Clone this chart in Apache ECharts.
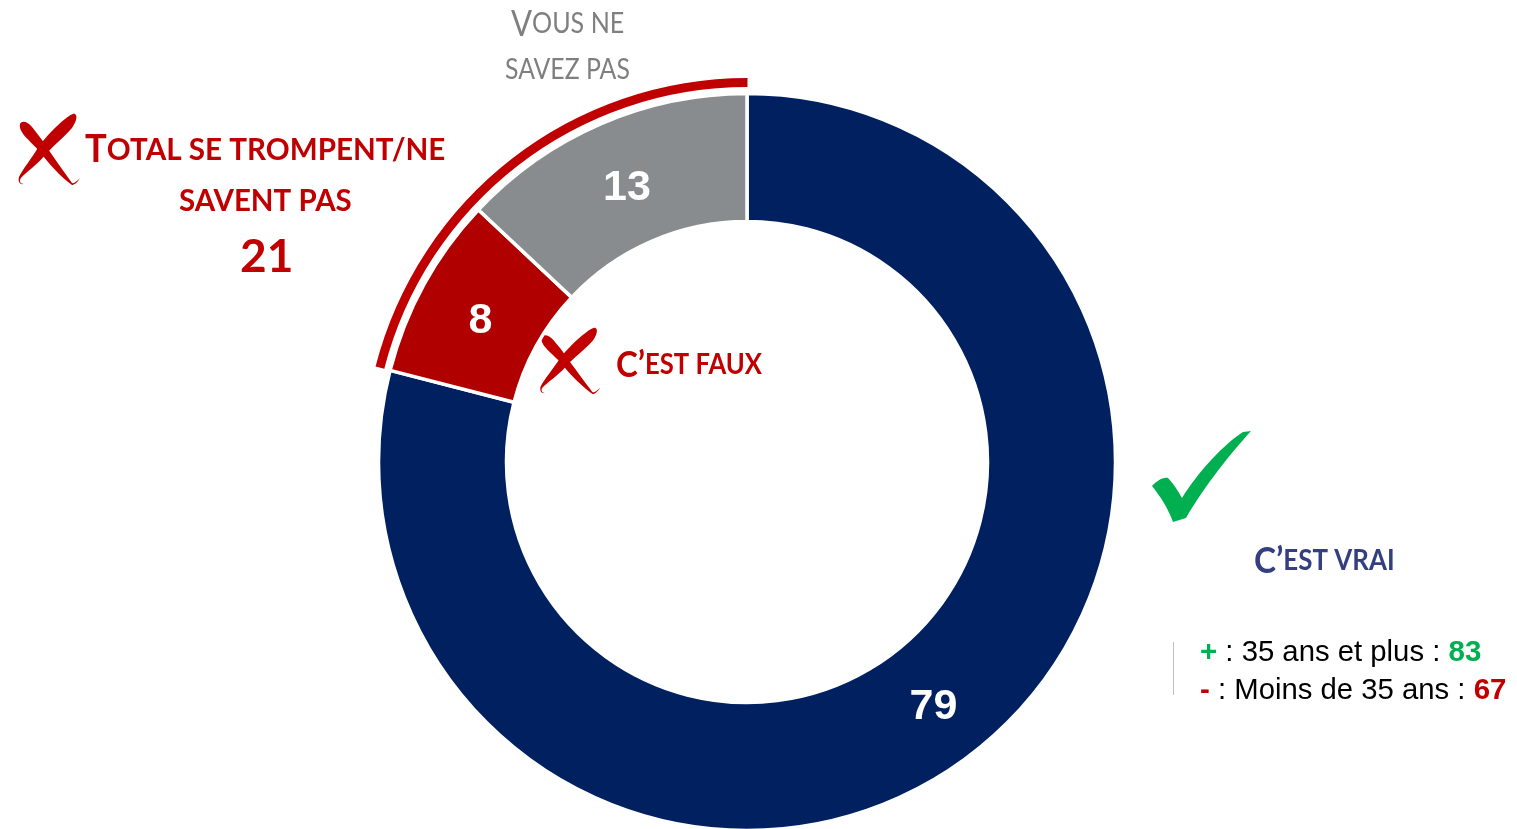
<!DOCTYPE html>
<html>
<head>
<meta charset="UTF-8">
<title></title>
<style>
  html,body{margin:0;padding:0;background:#fff;}
  #echart-container{width:1517px;height:829px;}
</style>
<script src="https://cdn.jsdelivr.net/npm/echarts@6/dist/echarts.min.js"></script>
</head>
<body>
<div id="echart-container"></div>
<script>
// data
var categories = ["C'est vrai", "C'est faux", "Vous ne savez pas"];
var values = [79, 8, 13];
var sliceColors = ['#002060', '#b00000', '#898c8e'];
var labelShift = [[-2, 2], [3, 7], [2, 8]];
var wrongGroup = ['', 'Total se trompent/ne savent pas'];
var wrongValues = [79, 21];
var ageLabels = ['35 ans et plus', 'Moins de 35 ans'];
var ageValues = [83, 67];

var red = '#c00000', green = '#00b050', calibri = 'Lato', arial = '"Liberation Sans"';

// hand-drawn cross, 0,0 is the top left of the first one
var crossPath = 'M20 124 C22 120 28 122 32 127 C36 132 41 138 46 146 C52 155 64 172 72 183 C74 184 77 181 80 178 C77 183 74 185 72 185 C62 178 48 163 40 152 C32 142 18 133 20 124 Z ' +
  'M75 114 C78 116 76 122 72 128 C64 137 52 147 45 155 C36 166 26 172 21 178 C19 181 20 184 24 184 C19 185 18 181 19 177 C22 170 32 158 39 146 C46 137 56 126 65 119 C69 116 73 113 75 114 Z';
var checkPath = 'M1152 486 C1156 482 1162 477 1168 478 C1174 484 1178 491 1182 498 C1198 472 1224 444 1243 432 L1251 431 C1232 452 1205 485 1186 518 L1173 522 C1168 508 1160 496 1152 486 Z';

// graphic has no plain path type, so register the two icons as shapes
echarts.graphic.registerShape('crossIcon', echarts.graphic.extendPath(crossPath, {}));
echarts.graphic.registerShape('checkIcon', echarts.graphic.extendPath(checkPath, {}));

// small caps: big first letter, the rest smaller
function capsRich(color, big, small, weight) {
  return {
    a: {fontFamily: calibri, fontSize: big, fontWeight: weight, fill: color, color: color},
    b: {fontFamily: calibri, fontSize: small, fontWeight: weight, fill: color, color: color}
  };
}
function capsText(x, y, text, color, big, small, weight, sx) {
  return {
    type: 'text', x: x, y: y, scaleX: sx || 1, silent: true,
    style: {text: text, rich: capsRich(color, big, small, weight), align: 'left', verticalAlign: 'middle'}
  };
}
function plainText(x, y, text, size, color, weight, family) {
  return {
    type: 'text', x: x, y: y, silent: true,
    style: {text: text, fontSize: size, fill: color, fontWeight: weight, fontFamily: family, align: 'left', verticalAlign: 'middle'}
  };
}

var myEchart = echarts.init(document.getElementById('echart-container'));
var option = {
  animation: false,
  series: [{
    name: 'main',
    type: 'pie',
    center: [747, 462],
    radius: [240.5, 368.5],
    startAngle: 90,
    silent: true,
    data: categories.map(function (c, i) {
      return {name: c, value: values[i], itemStyle: {color: sliceColors[i]}, label: {offset: labelShift[i]}};
    }),
    itemStyle: {borderColor: '#fff', borderWidth: 3.5},
    label: {position: 'inside', formatter: '{c}', color: '#fff', fontFamily: arial, fontWeight: 'bold', fontSize: 43},
    labelLine: {show: false}
  }, {
    name: 'group',
    type: 'pie',
    center: [747.5, 462],
    radius: [375, 384],
    startAngle: 90,
    silent: true,
    data: wrongGroup.map(function (c, i) {
      return {name: c, value: wrongValues[i], itemStyle: {color: i === 1 ? red : 'transparent'}};
    }),
    label: {show: false},
    labelLine: {show: false}
  }],
  graphic: [
    {type: 'crossIcon', silent: true, style: {fill: red}},
    {type: 'crossIcon', silent: true, x: 522, y: 222, scaleX: 0.98, scaleY: 0.93, style: {fill: red}},
    {type: 'checkIcon', silent: true, style: {fill: green}},
    capsText(85, 150, '{a|T}{b|OTAL SE TROMPENT/NE}', red, 38, 31, 'bold', 0.955),
    capsText(179, 201, '{b|SAVENT PAS}', red, 38, 31, 'bold', 0.95),
    plainText(240, 257, String(wrongValues[1]), 46, red, 'bold', calibri),
    capsText(511, 24, '{a|V}{b|OUS NE}', '#7f7f7f', 36, 29, 'normal', 0.865),
    capsText(505, 70, '{b|SAVEZ PAS}', '#7f7f7f', 36, 29, 'normal', 0.855),
    capsText(616, 365, "{a|C’}{b|EST FAUX}", red, 36, 28, 'bold', 0.915),
    capsText(1254, 561, "{a|C’}{b|EST VRAI}", '#333f7f', 36, 28, 'bold', 0.925),
    {type: 'line', silent: true, shape: {x1: 1173.5, y1: 642, x2: 1173.5, y2: 695}, style: {stroke: '#bfbfbf', lineWidth: 1}},
    {
      type: 'text', x: 1200, y: 653, silent: true,
      style: {
        text: '{g|+}{k| : ' + ageLabels[0] + ' : }{g|' + ageValues[0] + '}',
        verticalAlign: 'middle',
        rich: {
          g: {fontFamily: arial, fontSize: 29.5, fontWeight: 'bold', fill: green, color: green},
          k: {fontFamily: arial, fontSize: 29.3, fill: '#000', color: '#000'}
        }
      }
    },
    {
      type: 'text', x: 1200, y: 691, silent: true,
      style: {
        text: '{g|-}{k| : ' + ageLabels[1] + ' : }{g|' + ageValues[1] + '}',
        verticalAlign: 'middle',
        rich: {
          g: {fontFamily: arial, fontSize: 29.5, fontWeight: 'bold', fill: red, color: red},
          k: {fontFamily: arial, fontSize: 29.3, fill: '#000', color: '#000'}
        }
      }
    }
  ]
};
myEchart.setOption(option);
</script>
</body>
</html>
